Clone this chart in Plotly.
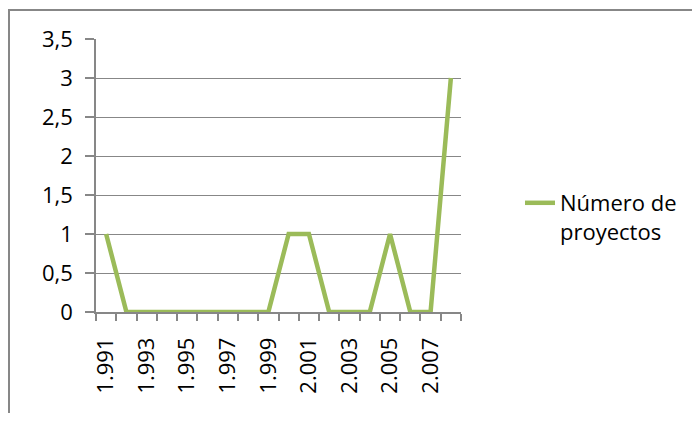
import plotly.graph_objects as go

years = list(range(1991, 2009))
proyectos = [1, 0, 0, 0, 0, 0, 0, 0, 0, 1, 1, 0, 0, 0, 1, 0, 0, 3]
tick_years = years[:-1:2]
tick_labels = [f"{y // 1000}.{y % 1000:03d}" for y in tick_years]
series_name = "Número de<br>proyectos"

# page is rendered with an 8px body margin, so figure pixels = page pixels - 8
OFF = 8
W, H = 700 - 2 * OFF, 421 - 2 * OFF
L, R, T, B = 96 - OFF, 461 - OFF, 39 - OFF, 312 - OFF  # plot area (figure px)

def px_x(p):
    return (p - L) / (R - L)

def px_y(p):
    return (B - p) / (B - T)

FONT = "Open Sans"
FS = 22
GRAY = "#878787"

fig = go.Figure()
fig.add_trace(go.Scatter(
    x=years, y=proyectos, mode="lines", name=series_name,
    line=dict(color="#9BBB59", width=4.5),
))

fig.update_layout(
    width=W, height=H,
    margin=dict(l=L, r=W - R, t=T, b=H - B, autoexpand=False),
    paper_bgcolor="white", plot_bgcolor="white",
    separators=",.",
    font=dict(family=FONT, size=FS, color="black"),
    showlegend=True,
    legend=dict(
        x=px_x(512), y=px_y(174), xanchor="left", yanchor="top",
        valign="top", font=dict(family=FONT, size=FS, color="black"),
        bgcolor="rgba(0,0,0,0)", itemwidth=30,
    ),
    xaxis=dict(
        range=[years[0] - 0.5, years[-1] + 0.5],
        tickmode="array", tickvals=tick_years, ticktext=tick_labels,
        tickangle=-90, ticks="", showgrid=False, zeroline=False,
        showline=True, linecolor=GRAY, linewidth=1.5,
        ticklabelstandoff=15,
        minor=dict(ticks="outside", tick0=years[0] - 0.5, dtick=1,
                   ticklen=7, tickcolor=GRAY, tickwidth=1.5, showgrid=False),
        tickfont=dict(family=FONT, size=FS),
    ),
    yaxis=dict(
        range=[0, 3.5], dtick=0.5, tick0=0,
        ticks="outside", ticklen=9, tickcolor=GRAY, tickwidth=1.5,
        showgrid=True, gridcolor=GRAY, gridwidth=1.2,
        zeroline=False, showline=True, linecolor=GRAY, linewidth=1.5,
        ticklabelstandoff=8,
        tickfont=dict(family=FONT, size=FS),
    ),
    shapes=[dict(
        type="rect", xref="paper", yref="paper",
        x0=px_x(1), x1=px_x(720), y0=px_y(440), y1=px_y(2),
        line=dict(color=GRAY, width=2), fillcolor="rgba(0,0,0,0)",
        layer="below",
    )],
)

fig.write_html("out.html")
